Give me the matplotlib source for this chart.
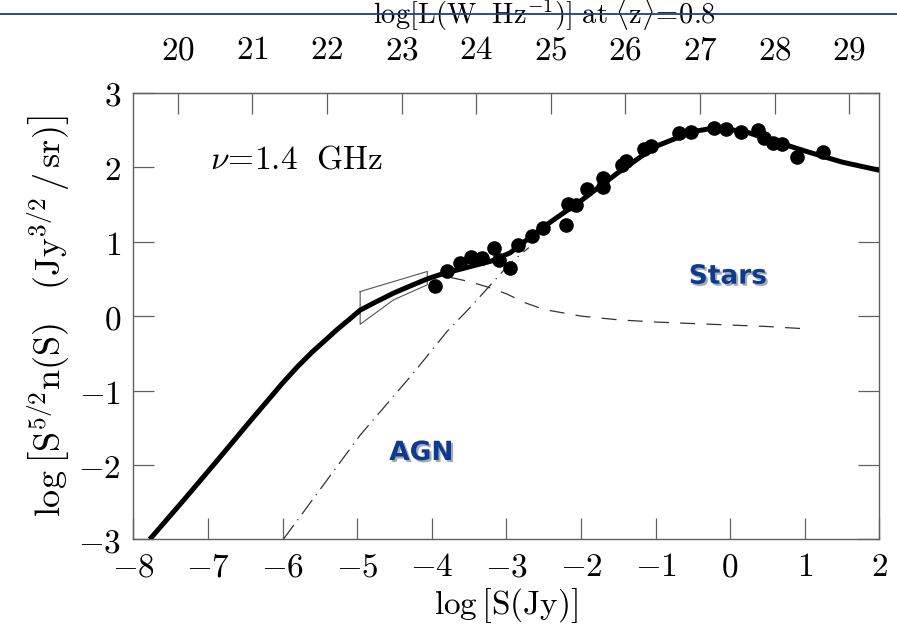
import numpy as np
import matplotlib.pyplot as plt
import matplotlib.patheffects as pe
from matplotlib.lines import Line2D
from matplotlib.ticker import FixedLocator, FuncFormatter

plt.rcParams['mathtext.fontset'] = 'cm'
plt.rcParams['font.family'] = ['DejaVu Sans']

# total model (thick solid)
total_x = [-7.78, -7.34, -6.9, -6.45, -6.0, -5.8, -5.6, -5.4, -5.28, -5.1, -4.96, -4.75, -4.51,
           -4.3, -4.06, -3.85, -3.58, -3.2, -2.95, -2.5, -2.0, -1.5, -1.0, -0.5, -0.2,
           0.2, 0.5, 1.0, 1.5, 2.0]
total_y = [-3.00, -2.49, -1.97, -1.43, -0.90, -0.68, -0.48, -0.30, -0.19, -0.04, 0.08, 0.19, 0.31,
           0.40, 0.50, 0.57, 0.64, 0.74, 0.85, 1.20, 1.55, 1.93, 2.28, 2.48, 2.53,
           2.48, 2.38, 2.22, 2.07, 1.96]

# dashed component
dash_x = [-3.75, -3.48, -3.25, -3.0, -2.75, -2.5, -2.0, -1.5, -1.0, -0.5, 0.0, 0.5, 1.0]
dash_y = [0.52, 0.46, 0.39, 0.30, 0.18, 0.09, 0.00, -0.05, -0.08, -0.10, -0.12, -0.14, -0.17]

# dot-dashed component
dd_x = [-5.99, -4.96, -4.25, -3.79, -3.5, -2.95, -2.7]
dd_y = [-3.0, -1.60, -0.77, -0.20, 0.10, 0.71, 0.92]

# P(D) box
box_x = [-4.96, -4.06, -4.06, -4.51, -4.96, -4.96]
box_y = [0.33, 0.60, 0.42, 0.22, -0.11, 0.33]

# source counts
obs_x = [-3.95, -3.80, -3.62, -3.48, -3.32, -3.17, -3.10, -2.95, -2.85, -2.65, -2.51,
         -2.20, -2.18, -2.07, -1.92, -1.71, -1.71, -1.45, -1.40, -1.16, -1.06, -0.69,
         -0.52, -0.21, -0.06, 0.15, 0.37, 0.455, 0.57, 0.70, 0.90, 1.24]
obs_y = [0.40, 0.60, 0.71, 0.80, 0.78, 0.91, 0.76, 0.65, 0.96, 1.07, 1.19,
         1.22, 1.50, 1.49, 1.71, 1.85, 1.73, 2.03, 2.08, 2.24, 2.29, 2.46,
         2.48, 2.53, 2.52, 2.47, 2.50, 2.39, 2.32, 2.31, 2.14, 2.20]

x_ticks = list(range(-8, 3))
y_ticks = list(range(-3, 4))
lum_ticks = list(range(20, 30))
lum_offset = 27.405

frame = '#606060'
blue = '#0d3b92'

fig = plt.figure(figsize=(8.97, 6.31), dpi=100)
ax = fig.add_axes([0.1487, 0.1453, 0.8316, 0.7075])

ax.plot(total_x, total_y, color='black', lw=3.6, solid_joinstyle='round', solid_capstyle='butt', zorder=4)
ax.plot(dash_x, dash_y, color='#333333', lw=0.9, linestyle=(0, (12, 9)), zorder=2)
ax.plot(dd_x, dd_y, color='#333333', lw=0.9, linestyle=(0, (14, 5, 1, 5)), zorder=2)
ax.plot(box_x, box_y, color='#555555', lw=0.8, zorder=2)
ax.plot(obs_x, obs_y, 'o', color='black', ms=9.5, zorder=5)

ax.text(-6.97, 1.99, r'$\nu\!=\!1.4\ \ \mathrm{GHz}$', fontsize=24, ha='left', va='baseline')
shadow = [pe.withSimplePatchShadow(offset=(1.5, -1.5), shadow_rgbFace='#888888', alpha=0.7)]
ax.text(-0.03, 0.53, 'Stars', color=blue, fontsize=19, fontweight='bold',
        ha='center', va='center', path_effects=shadow)
ax.text(-4.14, -1.84, 'AGN', color=blue, fontsize=19, fontweight='bold',
        ha='center', va='center', path_effects=shadow)

ax.set_xlim(-8, 2)
ax.set_ylim(-3, 3)
math_fmt = FuncFormatter(lambda v, p: r'$%d$' % v)
ax.xaxis.set_major_locator(FixedLocator(x_ticks))
ax.yaxis.set_major_locator(FixedLocator(y_ticks))
ax.xaxis.set_major_formatter(math_fmt)
ax.yaxis.set_major_formatter(math_fmt)
ax.tick_params(direction='in', length=15, width=0.9, color=frame, labelsize=24,
               top=False, right=True, labelright=False)
ax.tick_params(axis='x', pad=8)
ax.tick_params(axis='y', pad=9)
for s in ax.spines.values():
    s.set_color(frame)
    s.set_linewidth(1.0)

sec = ax.secondary_xaxis('top', functions=(lambda x: x + lum_offset, lambda L: L - lum_offset))
sec.xaxis.set_major_locator(FixedLocator(lum_ticks))
sec.xaxis.set_major_formatter(math_fmt)
sec.tick_params(direction='in', length=15, width=0.9, color=frame, labelsize=24, pad=19)
sec.spines['top'].set_color(frame)

ax.set_xlabel(r'$\log\left[\mathrm{S(Jy)}\right]$', fontsize=24, labelpad=2)
ax.set_ylabel(r'$\log\left[\mathrm{S^{5/2}n(S)}\ \ \ (\mathrm{Jy^{3/2}\,/\,sr})\right]$', fontsize=26, labelpad=4)

fig.text(544 / 897, 1 - 24 / 631, r'$\log[\mathrm{L(W\ \ Hz^{-1})}]\ \mathrm{at}\ \langle\mathrm{z}\rangle\!=\!0.8$',
         fontsize=20.5, ha='center', va='baseline')
fig.add_artist(Line2D([0, 1], [1 - 14 / 631, 1 - 14 / 631], transform=fig.transFigure,
                      color='#1b3f8f', lw=1.3, zorder=10))

fig.savefig('out.png', dpi=100)
